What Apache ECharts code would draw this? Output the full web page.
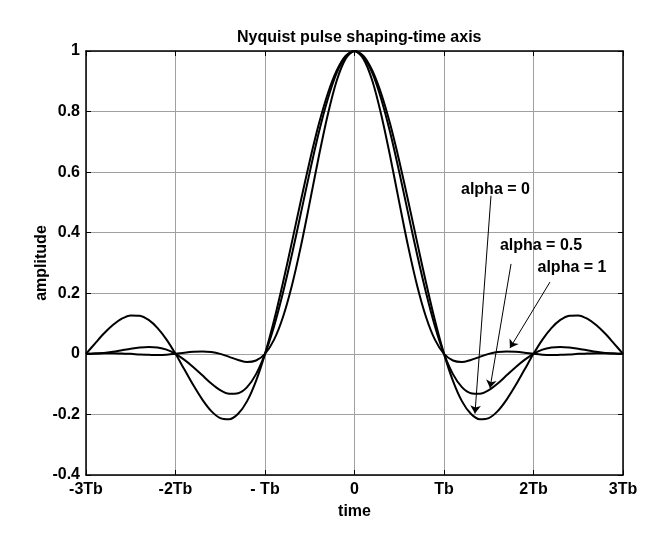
<!DOCTYPE html>
<html>
<head>
<meta charset="utf-8">
<script src="https://cdn.jsdelivr.net/npm/echarts@6/dist/echarts.min.js"></script>
<style>
  html, body { margin: 0; padding: 0; background: #fff; }
  #chart { width: 666px; height: 543px; }
</style>
</head>
<body>
<div id="chart"></div>
<script>
// time samples (in units of Tb)
const timeValues = [
  -3, -2.9, -2.8, -2.7, -2.6, -2.5, -2.4, -2.3, -2.2, -2.1,
  -2, -1.9, -1.8, -1.7, -1.6, -1.5, -1.4, -1.3, -1.2, -1.1,
  -1, -0.9, -0.8, -0.7, -0.6, -0.5, -0.4, -0.3, -0.2, -0.1,
  0, 0.1, 0.2, 0.3, 0.4, 0.5, 0.6, 0.7, 0.8, 0.9,
  1, 1.1, 1.2, 1.3, 1.4, 1.5, 1.6, 1.7, 1.8, 1.9,
  2, 2.1, 2.2, 2.3, 2.4, 2.5, 2.6, 2.7, 2.8, 2.9, 3
]

const alpha0 = [
  0, 0.034, 0.067, 0.095, 0.116, 0.127, 0.126, 0.112, 0.085, 0.047,
  0, -0.052, -0.104, -0.151, -0.189, -0.212, -0.216, -0.198, -0.156, -0.089,
  0, 0.109, 0.234, 0.368, 0.505, 0.637, 0.757, 0.858, 0.935, 0.984,
  1, 0.984, 0.935, 0.858, 0.757, 0.637, 0.505, 0.368, 0.234, 0.109,
  0, -0.089, -0.156, -0.198, -0.216, -0.212, -0.189, -0.151, -0.104, -0.052,
  0, 0.047, 0.085, 0.112, 0.126, 0.127, 0.116, 0.095, 0.067, 0.034, 0
]

const alpha05 = [
  0, 0.001, 0.003, 0.007, 0.012, 0.017, 0.021, 0.023, 0.021, 0.014,
  0, -0.020, -0.044, -0.071, -0.098, -0.120, -0.132, -0.130, -0.110, -0.067,
  0, 0.090, 0.201, 0.327, 0.463, 0.600, 0.729, 0.840, 0.927, 0.981,
  1, 0.981, 0.927, 0.840, 0.729, 0.600, 0.463, 0.327, 0.201, 0.090,
  0, -0.067, -0.110, -0.130, -0.132, -0.120, -0.098, -0.071, -0.044, -0.020,
  0, 0.014, 0.021, 0.023, 0.021, 0.017, 0.012, 0.007, 0.003, 0.001, 0
]

const alpha1 = [
  0, 0.001, 0.002, 0.002, 0.001, 0, -0.002, -0.003, -0.004, -0.003,
  0, 0.004, 0.007, 0.008, 0.006, 0, -0.010, -0.020, -0.027, -0.022,
  0, 0.046, 0.121, 0.225, 0.354, 0.500, 0.650, 0.788, 0.901, 0.974,
  1, 0.974, 0.901, 0.788, 0.650, 0.500, 0.354, 0.225, 0.121, 0.046,
  0, -0.022, -0.027, -0.020, -0.010, 0, 0.006, 0.008, 0.007, 0.004,
  0, -0.003, -0.004, -0.003, -0.002, 0, 0.001, 0.002, 0.002, 0.001, 0
]

const xTickLabels = ['-3Tb', '-2Tb', '- Tb', '0', 'Tb', '2Tb', '3Tb']

// annotation text + arrow (start, tip) in data units
const notes = [
  { text: 'alpha = 0',   at: [1.575, 0.544], from: [1.525, 0.522], to: [1.346, -0.197] },
  { text: 'alpha = 0.5', at: [2.084, 0.356], from: [1.749, 0.297], to: [1.514, -0.113] },
  { text: 'alpha = 1',   at: [2.430, 0.284], from: [2.184, 0.237], to: [1.737, 0.019] }
]

const font = 'Liberation Sans, Arial, sans-serif'
const boldText = { fontFamily: font, fontWeight: 'bold', fontSize: 16, color: '#000' }

const pairs = (ys) => timeValues.map((t, i) => [t, ys[i]])

const chart = echarts.init(document.getElementById('chart'))

const axisCommon = {
  type: 'value',
  axisLine: { show: true, onZero: false, lineStyle: { color: '#000', width: 1.5 } },
  axisTick: { show: true, inside: true, length: 5, lineStyle: { color: '#000', width: 1 } }
}

const lineSeries = (name, ys) => ({
  name,
  type: 'line',
  data: pairs(ys),
  showSymbol: false,
  smooth: 0.3,
  lineStyle: { color: '#000', width: 2 },
  itemStyle: { color: '#000' },
  silent: true,
  z: 3
})

const first = lineSeries('alpha = 0', alpha0)
first.markLine = {
  silent: true,
  symbol: ['none', 'arrow'],
  symbolSize: 8,
  label: { show: false },
  lineStyle: { color: '#000', width: 1, type: 'solid' },
  emphasis: { disabled: true },
  data: notes.map((n) => [{ coord: n.from }, { coord: n.to }])
}
first.markPoint = {
  silent: true,
  symbol: 'circle',
  symbolSize: 1,
  itemStyle: { color: 'transparent' },
  label: Object.assign({ show: true, position: 'inside' }, boldText),
  data: notes.map((n) => ({ coord: n.at, value: n.text, label: { formatter: n.text } }))
}

chart.setOption({
  animation: false,
  backgroundColor: '#fff',
  title: {
    text: 'Nyquist pulse shaping-time axis',
    left: 232,
    top: 25,
    textStyle: boldText
  },
  grid: { left: 86, right: 43, top: 51, bottom: 68 },
  xAxis: [
    Object.assign({}, axisCommon, {
      position: 'bottom',
      min: -3,
      max: 3,
      interval: 1,
      name: 'time',
      nameLocation: 'middle',
      nameGap: 29,
      nameMoveOverlap: false,
      nameTextStyle: boldText,
      axisLabel: Object.assign({ margin: 7, formatter: (v) => xTickLabels[Math.round(v) + 3] }, boldText),
      splitLine: { show: true, lineStyle: { color: '#a0a0a0', width: 1 } }
    }),
    Object.assign({}, axisCommon, {
      position: 'top',
      min: -3,
      max: 3,
      interval: 1,
      axisLabel: { show: false },
      splitLine: { show: false }
    })
  ],
  yAxis: [
    Object.assign({}, axisCommon, {
      position: 'left',
      min: -0.4,
      max: 1,
      interval: 0.2,
      name: 'amplitude',
      nameLocation: 'middle',
      nameGap: 36,
      nameMoveOverlap: false,
      nameTextStyle: boldText,
      axisLabel: Object.assign({ margin: 6 }, boldText),
      splitLine: { show: true, lineStyle: { color: '#a0a0a0', width: 1 } }
    }),
    Object.assign({}, axisCommon, {
      position: 'right',
      min: -0.4,
      max: 1,
      interval: 0.2,
      axisLabel: { show: false },
      splitLine: { show: false }
    })
  ],
  series: [
    first,
    lineSeries('alpha = 0.5', alpha05),
    lineSeries('alpha = 1', alpha1)
  ]
})
</script>
</body>
</html>
